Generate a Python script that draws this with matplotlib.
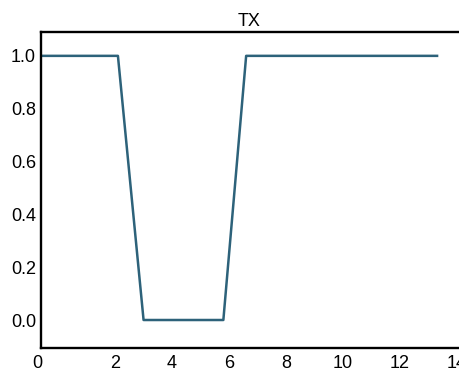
import matplotlib
matplotlib.use("Agg")
import matplotlib.pyplot as plt
from matplotlib.transforms import ScaledTranslation

# Transmit signal state over time
time = [-0.6, 2.1, 3.0, 5.8, 6.6, 13.3]
tx = [1, 1, 0, 0, 1, 1]

x_ticks = [2, 4, 6, 8, 10, 12, 14]
x_labels = ["0", "2", "4", "6", "8", "10", "12", "14"]
y_ticks = [0.0, 0.2, 0.4, 0.6, 0.8, 1.0]

plt.rcParams["font.family"] = ["Liberation Sans", "DejaVu Sans"]
plt.rcParams["font.size"] = 13

fig = plt.figure(figsize=(4.6, 3.73), dpi=100)
ax = fig.add_axes([0.0891, 0.067, 0.923, 0.847])

ax.plot(time, tx, color="#2d627a", linewidth=1.8)

ax.set_xlim(time[0], 14.3)
ax.set_ylim(-0.106, 1.09)
ax.set_xticks([time[0]] + x_ticks)
ax.set_xticklabels(x_labels)
ax.set_yticks(y_ticks)
ax.set_yticklabels([f"{v:.1f}" for v in y_ticks])
ax.tick_params(axis="both", length=0)
ax.tick_params(axis="y", pad=3.5)
ax.tick_params(axis="x", pad=5)

# nudge the origin label slightly left of the corner
first = ax.get_xticklabels()[0]
first.set_transform(first.get_transform() + ScaledTranslation(-0.04, 0, fig.dpi_scale_trans))

for side in ("left", "bottom", "top", "right"):
    ax.spines[side].set_linewidth(1.7)
    ax.spines[side].set_color("black")

ax.set_title("TX", fontsize=13, pad=4.5, x=0.49)

fig.savefig("out.png", dpi=100)
